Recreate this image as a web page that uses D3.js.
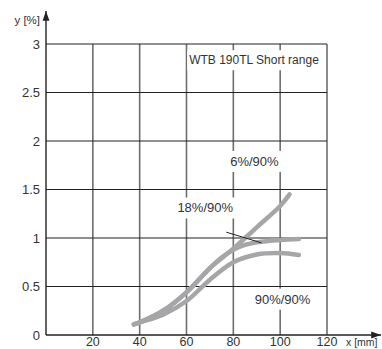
<!DOCTYPE html>
<html><head><meta charset="utf-8">
<script src="https://cdn.jsdelivr.net/npm/d3@7"></script>
<style>body{margin:0;background:#fff}svg{display:block}text{font-family:"Liberation Sans",Arial,sans-serif;fill:#333}</style>
</head><body>
<script>
const xTicks = [20, 40, 60, 80, 100, 120];
const yTicks = [0, 0.5, 1, 1.5, 2, 2.5, 3];
const yTickLabels = ["0", "0.5", "1", "1.5", "2", "2.5", "3"];
const series6 = [[37.5,0.11],[40,0.13],[50,0.25],[60,0.44],[70,0.69],[80,0.89],[90,1.11],[100,1.33],[104,1.45]];
const series18 = [[37.5,0.11],[40,0.13],[50,0.25],[60,0.44],[70,0.69],[75,0.80],[80,0.88],[85,0.93],[90,0.955],[100,0.98],[108,0.99]];
const series90 = [[37.5,0.11],[40,0.13],[50,0.21],[60,0.35],[70,0.57],[80,0.75],[90,0.83],[100,0.845],[108,0.825]];
const labels = [
  {text:"6%/90%", x:89, y:1.79},
  {text:"18%/90%", x:68, y:1.31},
  {text:"90%/90%", x:101, y:0.37}
];
const title = "WTB 190TL Short range";

const W = 382, H = 349;
const svg = d3.select("body").append("svg").attr("width", W).attr("height", H);
const x = d3.scaleLinear().domain([0,120]).range([46,327]);
const y = d3.scaleLinear().domain([0,3]).range([335,44]);

// vertical grid
svg.append("g").selectAll("line").data(xTicks).join("line")
  .attr("x1", d=>x(d)).attr("x2", d=>x(d)).attr("y1", y(0)).attr("y2", y(3))
  .attr("stroke", "#6e6e6e").attr("stroke-width", 1.6);
// horizontal grid
svg.append("g").selectAll("line").data(yTicks.filter(d=>d>0)).join("line")
  .attr("x1", x(0)).attr("x2", x(120)).attr("y1", d=>y(d)).attr("y2", d=>y(d))
  .attr("stroke", "#222").attr("stroke-width", 1.1);

// axes with arrows
svg.append("defs").append("marker").attr("id","arr").attr("viewBox","0 0 10 10")
  .attr("refX",10).attr("refY",5).attr("markerWidth",7).attr("markerHeight",7).attr("orient","auto")
  .append("path").attr("d","M0,1.5L10,5L0,8.5Z").attr("fill","#222");
svg.append("line").attr("x1", x(0)).attr("x2", x(0)).attr("y1", y(0)).attr("y2", 11)
  .attr("stroke","#222").attr("stroke-width",1.4).attr("marker-end","url(#arr)");
svg.append("line").attr("x1", x(0)).attr("x2", 381).attr("y1", y(0)).attr("y2", y(0))
  .attr("stroke","#222").attr("stroke-width",1.4).attr("marker-end","url(#arr)");

// tick labels
svg.append("g").selectAll("text").data(yTicks).join("text")
  .attr("x", 40).attr("y", d=>y(d)).attr("dy","0.36em").attr("text-anchor","end")
  .attr("font-size", 13).text((d,i)=>yTickLabels[i]);
svg.append("g").selectAll("text").data(xTicks).join("text")
  .attr("x", d=>x(d)).attr("y", 346).attr("text-anchor","middle")
  .attr("font-size", 12.5).text(d=>d);
svg.append("text").attr("x", 40).attr("y", 24).attr("text-anchor","end").attr("font-size",11.5).text("y [%]");
svg.append("text").attr("x", 346).attr("y", 346).attr("font-size",10.5).text("x [mm]");

// label with white background
function boxedText(t, px, py, fs){
  const g = svg.append("g");
  const r = g.append("rect").attr("fill","#fff");
  const tx = g.append("text").attr("x",px).attr("y",py).attr("text-anchor","middle").attr("dy","0.35em").attr("font-size",fs).text(t);
  const b = tx.node().getBBox();
  r.attr("x",b.x-2).attr("y",b.y-3).attr("width",b.width+4).attr("height",b.height+6);
}
boxedText(title, 254, 60, 12);
labels.forEach(l=>boxedText(l.text, x(l.x), y(l.y), 13));

// curves
const line = d3.line().x(d=>x(d[0])).y(d=>y(d[1])).curve(d3.curveCatmullRom);
[series90, series18, series6].forEach(s=>{
  svg.append("path").datum(s).attr("d", line).attr("fill","none")
    .attr("stroke","#a6a6a8").attr("stroke-width",4.5).attr("stroke-linecap","round");
});
// pointer line
svg.append("line").attr("x1", x(77)).attr("y1", y(1.06)).attr("x2", x(92)).attr("y2", y(0.95))
  .attr("stroke","#222").attr("stroke-width",1);
</script>
</body></html>
